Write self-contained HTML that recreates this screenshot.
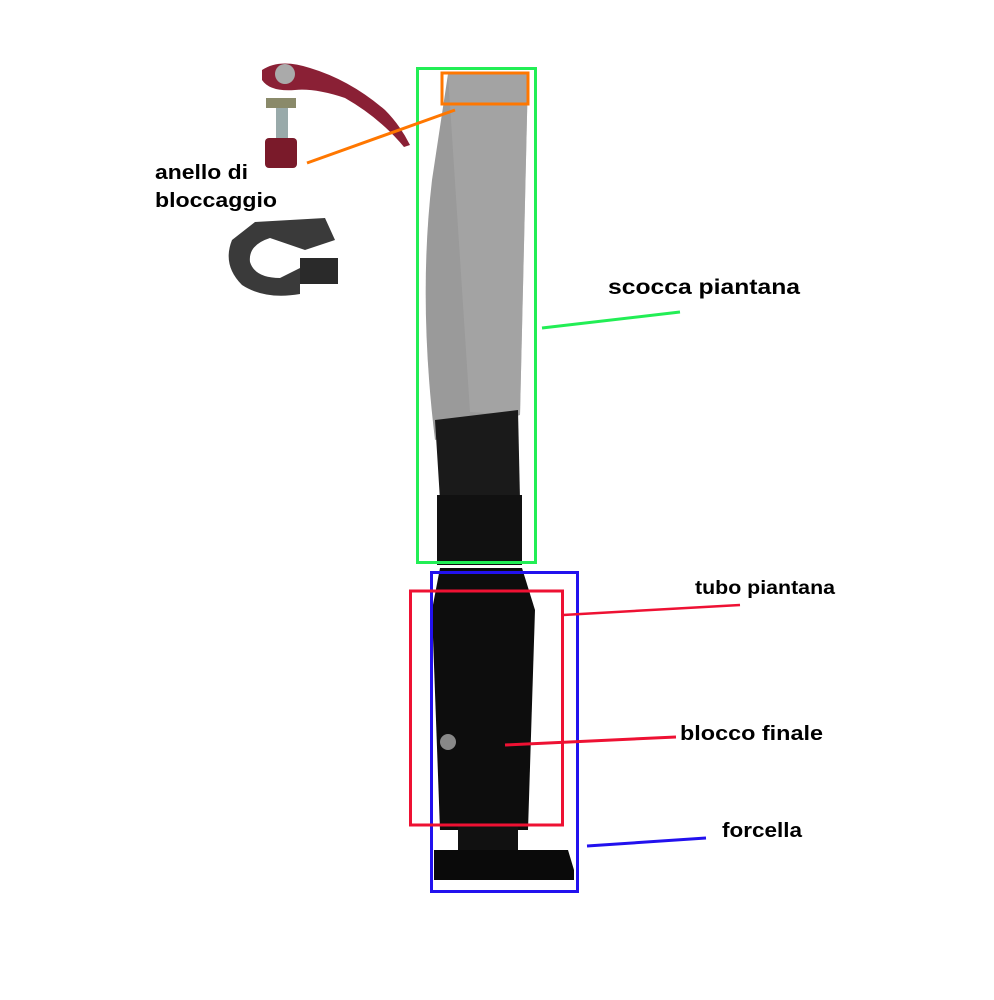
<!DOCTYPE html>
<html><head><meta charset="utf-8"><style>
html,body{margin:0;padding:0;background:#fff;}
svg{display:block}
text{font-family:"Liberation Sans",Arial,sans-serif;font-weight:bold;fill:#000}
</style></head><body>
<svg width="994" height="1000" viewBox="0 0 994 1000" xmlns="http://www.w3.org/2000/svg">
<rect width="994" height="1000" fill="#fff"/>
<!-- lever -->
<path d="M262,70 Q280,58 310,68 Q350,80 385,110 Q400,125 410,145 L404,147 Q380,118 345,98 Q315,88 295,90 Q270,92 262,80 Z" fill="#8a2035"/>
<circle cx="285" cy="74" r="10" fill="#aaa"/>
<rect x="266" y="98" width="30" height="10" fill="#8a8a6a"/>
<rect x="276" y="108" width="12" height="30" fill="#9aa"/>
<rect x="265" y="138" width="32" height="30" rx="4" fill="#7a1a2a"/>
<!-- clamp ring -->
<path d="M255,222 L325,218 L335,240 L305,250 L270,238 Q248,245 250,262 Q255,278 280,278 L300,268 L300,294 Q265,300 242,285 Q222,265 232,240 Z" fill="#3a3a3a"/>
<rect x="300" y="258" width="38" height="26" fill="#2a2a2a"/>
<!-- stem wrapped -->
<path d="M448,74 L528,74 L520,415 L435,440 Q418,300 432,180 Z" fill="#9a9a9a"/>
<path d="M448,74 L528,74 L520,415 L470,412 Z" fill="#aaa" opacity="0.6"/>
<!-- upper black tube -->
<path d="M435,420 L518,410 L520,500 L440,500 Z" fill="#1a1a1a"/>
<rect x="437" y="495" width="85" height="70" fill="#111"/>
<!-- lower tube -->
<path d="M440,568 L522,568 L535,610 L528,830 L440,830 L432,610 Z" fill="#0d0d0d"/>
<rect x="458" y="825" width="60" height="28" fill="#111"/>
<path d="M434,850 L568,850 L574,870 L574,880 L434,880 Z" fill="#0a0a0a"/>
<circle cx="448" cy="742" r="8" fill="#888"/>
<!-- boxes -->
<rect x="417.5" y="68.5" width="118" height="494" fill="none" stroke="#22ee55" stroke-width="3"/>
<rect x="442" y="73" width="86" height="31" fill="none" stroke="#ff7700" stroke-width="3"/>
<rect x="431.5" y="572.5" width="146" height="319" fill="none" stroke="#2211ee" stroke-width="3"/>
<rect x="410.5" y="591" width="152" height="234" fill="none" stroke="#ee1133" stroke-width="3"/>
<!-- leader lines -->
<line x1="455" y1="110" x2="307" y2="163" stroke="#ff7700" stroke-width="3"/>
<line x1="542" y1="328" x2="680" y2="312" stroke="#22ee55" stroke-width="3"/>
<line x1="563" y1="615" x2="740" y2="605" stroke="#ee1133" stroke-width="2.5"/>
<line x1="505" y1="745" x2="676" y2="737" stroke="#ee1133" stroke-width="3"/>
<line x1="587" y1="846" x2="706" y2="838" stroke="#2211ee" stroke-width="3"/>
<!-- labels -->
<text x="155" y="179" font-size="20" textLength="93" lengthAdjust="spacingAndGlyphs">anello di</text>
<text x="155" y="207" font-size="20" textLength="122" lengthAdjust="spacingAndGlyphs">bloccaggio</text>
<text x="608" y="294" font-size="21" textLength="192" lengthAdjust="spacingAndGlyphs">scocca piantana</text>
<text x="695" y="594" font-size="19" textLength="140" lengthAdjust="spacingAndGlyphs">tubo piantana</text>
<text x="680" y="740" font-size="20" textLength="143" lengthAdjust="spacingAndGlyphs">blocco finale</text>
<text x="722" y="837" font-size="20" textLength="80" lengthAdjust="spacingAndGlyphs">forcella</text>
</svg>
</body></html>
